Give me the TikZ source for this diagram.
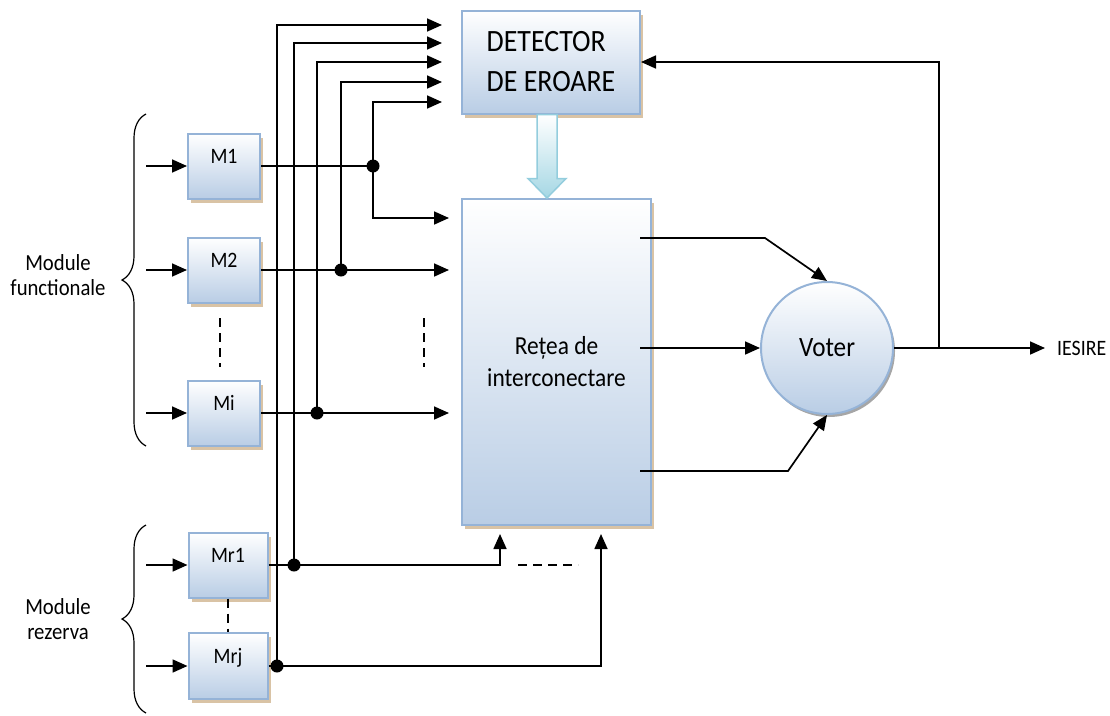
\documentclass[tikz,border=0pt]{standalone}
\usepackage{fontspec}
\setmainfont{Carlito}[FakeStretch=0.9]
\usetikzlibrary{arrows.meta,calc,shadows,decorations.pathreplacing}
\definecolor{boxblue}{HTML}{B9CDE5}
\definecolor{boxedge}{HTML}{95B3D7}
\definecolor{shadowtan}{HTML}{D9C3A5}
\definecolor{arrowcyan}{HTML}{A5D7E4}
\definecolor{arrowedge}{HTML}{93CDDD}

\begin{document}
\begin{tikzpicture}[x=1pt,y=-1pt,
  block/.style={draw=boxedge, line width=2pt, top color=white, bottom color=boxblue, inner sep=0pt},
  tanshadow/.style={general shadow={fill=shadowtan, shadow xshift=3pt, shadow yshift=-4pt}},
  modbox/.style={block, tanshadow, minimum width=72pt, minimum height=65pt,
    font=\fontsize{22}{26}\selectfont, text height=15pt, text depth=20pt},
  wire/.style={line width=1.7pt},
  tip/.style={-{Triangle[length=15pt,width=13pt]}},
  dotdash/.style={line width=1.7pt, dash pattern=on 9pt off 6pt},
  brace/.style={line width=1.2pt, decorate, decoration={brace,amplitude=24pt}},
  lbl/.style={font=\fontsize{23}{25}\selectfont, align=center}]
  \useasboundingbox (0,0) rectangle (1110,715);

  % blocks
  \node[block, tanshadow, minimum width=178pt, minimum height=103pt,
    font=\fontsize{31}{40}\selectfont, align=left] (det) at (551,62) {DETECTOR\\DE EROARE};
  \node[block, tanshadow, minimum width=189pt, minimum height=326pt,
    font=\fontsize{26}{32}\selectfont, align=center] (net) at (556.5,362) {Rețea de\\interconectare};
  \node[block, circle, minimum size=132pt, font=\fontsize{28}{30}\selectfont,
    general shadow={fill=gray!70, shadow xshift=2pt, shadow yshift=-3pt}] (voter) at (827,348) {Voter};

  % modules
  \node[modbox] (m1) at (224,166) {M1};
  \node[modbox] (m2) at (224,270) {M2};
  \node[modbox] (mi) at (224,413) {Mi};
  \node[modbox, minimum width=79pt] (mr1) at (228,565) {Mr1};
  \node[modbox, minimum width=79pt, minimum height=66pt] (mrj) at (228,666) {Mrj};

  % group labels
  \node[lbl] (func) at (58,275) {Module\\functionale};
  \node[lbl] (rez) at (58,619) {Module\\rezerva};
  \draw[brace] (146,446) -- (146,114);
  \draw[brace] (146,713) -- (146,525);

  \node[font=\fontsize{22}{24}\selectfont, anchor=west, inner sep=0pt] (out) at (1057,348) {IESIRE};

  % inputs
  \foreach \m in {m1,m2,mi}
    \draw[wire,tip] ([xshift=-41pt]\m.west) -- (\m.west);
  \foreach \m in {mr1,mrj}
    \draw[wire,tip] ([xshift=-41.5pt]\m.west) -- (\m.west);

  % junctions on the bus
  \coordinate (j1) at (373,166);
  \coordinate (j2) at (341,270);
  \coordinate (ji) at (317,413);
  \coordinate (jr1) at (294,565);
  \coordinate (jrj) at (277,666);

  % M1
  \draw[wire] (m1.east) -- (j1);
  \draw[wire,tip] (j1) |- ($(det.west)+(-19,40)$);
  \draw[wire,tip,shorten >=12pt] (j1) |- ($(net.west)+(0,-144)$);
  % M2
  \draw[wire,tip,shorten >=12pt] (m2.east) -- (net.west |- m2.east);
  \draw[wire,tip] (j2) |- ($(det.west)+(-19,20)$);
  % Mi
  \draw[wire,tip,shorten >=12pt] (mi.east) -- (net.west |- mi.east);
  \draw[wire,tip] (ji) |- ($(det.west)+(-19,0)$);
  % Mr1
  \draw[wire] (mr1.east) -- (jr1);
  \draw[wire,tip] (jr1) |- ($(det.west)+(-19,-19)$);
  \draw[wire,tip] (jr1) -| ($(net.south)+(-56.5,8)$);
  % Mrj
  \draw[wire] (mrj.east) -- (jrj);
  \draw[wire,tip] (jrj) |- ($(det.west)+(-19,-37)$);
  \draw[wire,tip] (jrj) -| ($(net.south)+(44.5,8)$);

  \foreach \j in {j1,j2,ji,jr1,jrj}
    \fill (\j) circle (6.5);

  % ellipsis marks
  \draw[dotdash] (220,318) -- (220,367);
  \draw[dotdash] (424,318) -- (424,367);
  \draw[dotdash] (mr1.south) -- (mrj.north);
  \draw[dotdash] (518,565) -- (578,565);

  % detector to network
  \coordinate (ar) at ($(det.south)+(-4,0)$);
  \shade[top color=white, bottom color=arrowcyan, draw=arrowedge, line width=1.5pt]
    ($(ar)+(-10,0)$) -- ++(0,64) -- ++(-9,0) -- (ar |- net.north)
    -- ($(ar)+(19,64)$) -- ++(-9,0) -- ($(ar)+(10,0)$) -- cycle;

  % network to voter
  \draw[wire,tip] ($(net.east)+(-12,-124)$) -- ++(125,0) -- (voter.north);
  \draw[wire,tip] ($(net.east)+(-12,-14)$) -- (voter.west);
  \draw[wire,tip] ($(net.east)+(-12,109)$) -- ++(148,0) -- (voter.south);

  % output and feedback
  \coordinate (split) at ($(voter.east)+(45,0)$);
  \draw[wire,tip] (voter.east) -- ([xshift=-12pt]out.west);
  \draw[wire,tip] (split) |- (det.east);
\end{tikzpicture}
\end{document}
